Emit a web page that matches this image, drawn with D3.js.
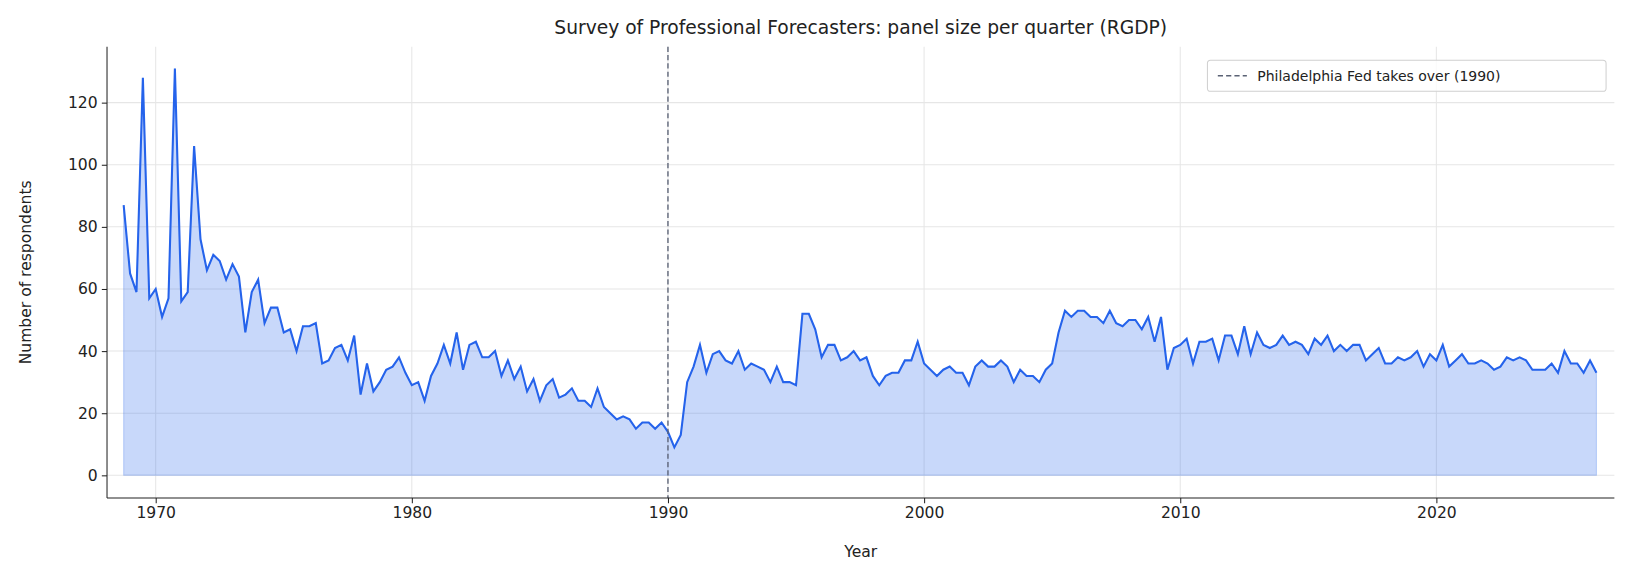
<!DOCTYPE html>
<html>
<head>
<meta charset="utf-8">
<script src="https://cdn.jsdelivr.net/npm/d3@7"></script>
<style>
  body { margin: 0; background: #fff; font-family: "DejaVu Sans", sans-serif; }
</style>
</head>
<body>
<svg id="chart" width="1629" height="580" viewBox="0 0 1569 558.7"></svg>
<script>
// quarterly panel size, starting 1968 Q4
const startYear = 1968.75;
const respondents = [
  87,65,59,128,57,60,51,57,131,56,
  59,106,76,66,71,69,63,68,64,46,
  59,63,49,54,54,46,47,40,48,48,
  49,36,37,41,42,37,45,26,36,27,
  30,34,35,38,33,29,30,24,32,36,
  42,36,46,34,42,43,38,38,40,32,
  37,31,35,27,31,24,29,31,25,26,
  28,24,24,22,28,22,20,18,19,18,
  15,17,17,15,17,14,9,13,30,35,
  42,33,39,40,37,36,40,34,36,35,
  34,30,35,30,30,29,52,52,47,38,
  42,42,37,38,40,37,38,32,29,32,
  33,33,37,37,43,36,34,32,34,35,
  33,33,29,35,37,35,35,37,35,30,
  34,32,32,30,34,36,46,53,51,53,
  53,51,51,49,53,49,48,50,50,47,
  51,43,51,34,41,42,44,36,43,43,
  44,37,45,45,39,48,39,46,42,41,
  42,45,42,43,42,39,44,42,45,40,
  42,40,42,42,37,39,41,36,36,38,
  37,38,40,35,39,37,42,35,37,39,
  36,36,37,36,34,35,38,37,38,37,
  34,34,34,36,33,40,36,36,33,37,33
];
const xTicks = [1970, 1980, 1990, 2000, 2010, 2020];
const yTicks = [0, 20, 40, 60, 80, 100, 120];
const takeoverYear = 1990;

const data = respondents.map((v, i) => ({ t: startYear + i / 4, v: v }));

const svg = d3.select("#chart");
// layout in the 1569-wide viewBox units
const margin = { top: 45, right: 14, bottom: 79, left: 103 };
const W = 1569, H = 558.7;

const x = d3.scaleLinear().domain([1968.1, 2026.95]).range([margin.left, W - margin.right]);
const y = d3.scaleLinear().domain([-7.3, 138]).range([H - margin.bottom, margin.top]);

// grid
svg.append("g").selectAll("line").data(xTicks).enter().append("line")
  .attr("x1", d => x(d)).attr("x2", d => x(d))
  .attr("y1", margin.top).attr("y2", H - margin.bottom)
  .attr("stroke", "#e6e6e6").attr("stroke-width", 1);
svg.append("g").selectAll("line").data(yTicks).enter().append("line")
  .attr("x1", margin.left).attr("x2", W - margin.right)
  .attr("y1", d => y(d)).attr("y2", d => y(d))
  .attr("stroke", "#e6e6e6").attr("stroke-width", 1);

// area + line
svg.append("path").datum(data)
  .attr("d", d3.area().x(d => x(d.t)).y0(y(0)).y1(d => y(d.v)))
  .attr("fill", "#2563eb").attr("fill-opacity", 0.25)
  .attr("stroke", "#2563eb").attr("stroke-opacity", 0.25);
svg.append("path").datum(data)
  .attr("d", d3.line().x(d => x(d.t)).y(d => y(d.v)))
  .attr("fill", "none").attr("stroke", "#2563eb").attr("stroke-width", 2);

// takeover line
svg.append("line")
  .attr("x1", x(takeoverYear)).attr("x2", x(takeoverYear))
  .attr("y1", margin.top).attr("y2", H - margin.bottom)
  .attr("stroke", "#5b6275").attr("stroke-width", 1.3).attr("stroke-dasharray", "5,3");

// axes
const xAxis = svg.append("g").attr("transform", `translate(0,${H - margin.bottom})`)
  .call(d3.axisBottom(x).tickValues(xTicks).tickFormat(d3.format("d")).tickSizeOuter(0).tickSize(5).tickPadding(4));
const yAxis = svg.append("g").attr("transform", `translate(${margin.left},0)`)
  .call(d3.axisLeft(y).tickValues(yTicks).tickSizeOuter(0).tickSize(5).tickPadding(4));
[xAxis, yAxis].forEach(a => {
  a.selectAll("text").attr("font-size", 15).attr("fill", "#222").attr("font-family", "DejaVu Sans");
  a.select(".domain").attr("stroke", "#222");
  a.selectAll(".tick line").attr("stroke", "#222");
});
xAxis.select(".domain").attr("d", `M${margin.left},0H${W - margin.right}`);
yAxis.select(".domain").attr("d", `M0,${margin.top}V${H - margin.bottom}`);

// labels
svg.append("text").attr("x", (margin.left + W - margin.right) / 2).attr("y", 33)
  .attr("text-anchor", "middle").attr("font-size", 18).attr("fill", "#222")
  .text("Survey of Professional Forecasters: panel size per quarter (RGDP)");
svg.append("text").attr("x", (margin.left + W - margin.right) / 2).attr("y", 537)
  .attr("text-anchor", "middle").attr("font-size", 15).attr("fill", "#222").text("Year");
svg.append("text").attr("transform", `translate(30,${(margin.top + H - margin.bottom) / 2}) rotate(-90)`)
  .attr("text-anchor", "middle").attr("font-size", 15).attr("fill", "#222").text("Number of respondents");

// legend
const lg = svg.append("g").attr("transform", "translate(1163,58)");
lg.append("rect").attr("width", 384).attr("height", 30).attr("rx", 3)
  .attr("fill", "#fff").attr("fill-opacity", 0.8).attr("stroke", "#d0d0d0");
lg.append("line").attr("x1", 10).attr("x2", 38).attr("y1", 15).attr("y2", 15)
  .attr("stroke", "#5b6275").attr("stroke-width", 1.3).attr("stroke-dasharray", "5,3");
lg.append("text").attr("x", 48).attr("y", 20).attr("font-size", 13.5).attr("fill", "#222")
  .text("Philadelphia Fed takes over (1990)");
</script>
</body>
</html>
